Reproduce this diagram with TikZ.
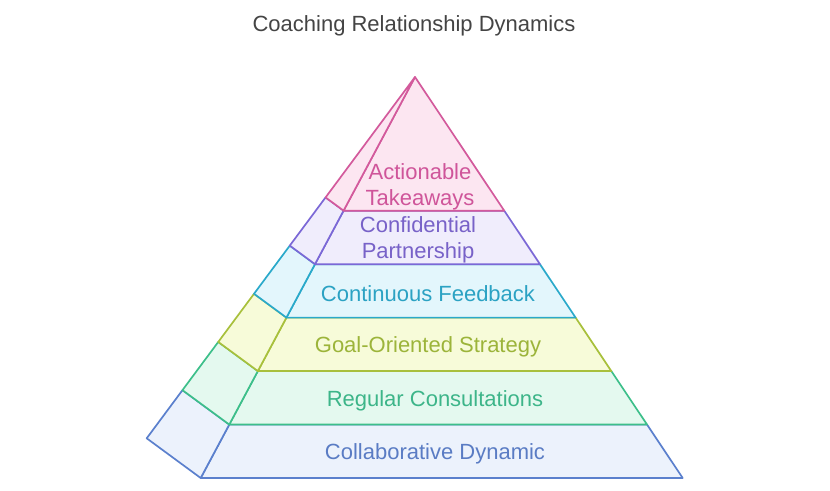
\documentclass[tikz,border=0pt]{standalone}
\usepackage{fontspec}
\setmainfont{Liberation Sans}
\usetikzlibrary{calc}
\definecolor{pkS}{HTML}{D35A9C}\definecolor{pkF}{HTML}{FCE6F1}\definecolor{pkT}{HTML}{CF559A}
\definecolor{puS}{HTML}{7B68D6}\definecolor{puF}{HTML}{F0EDFC}\definecolor{puT}{HTML}{7862C8}
\definecolor{cyS}{HTML}{2AA9CA}\definecolor{cyF}{HTML}{E3F6FC}\definecolor{cyT}{HTML}{2BA2C3}
\definecolor{olS}{HTML}{A8C03C}\definecolor{olF}{HTML}{F7FBD9}\definecolor{olT}{HTML}{9CB43A}
\definecolor{grS}{HTML}{3DBF8A}\definecolor{grF}{HTML}{E4F9EF}\definecolor{grT}{HTML}{3DB589}
\definecolor{blS}{HTML}{5B80CD}\definecolor{blF}{HTML}{ECF2FC}\definecolor{blT}{HTML}{5A7CC4}
\definecolor{titleC}{HTML}{444444}
\begin{document}
\begin{tikzpicture}[x=1pt,y=-1pt,line join=round,
  tier/.style={line width=1.7pt},
  lbl/.style={font=\fontsize{22}{26}\selectfont, align=center, inner sep=0pt},
  ttl/.style={font=\fontsize{22}{26}\selectfont, text=titleC, inner sep=0pt}]
\useasboundingbox (0,0) rectangle (830,490);
\coordinate (A) at (415,77);
\coordinate (L) at (200.7,478);
\coordinate (R) at (682.7,478);
\coordinate (D) at (146.7,438.3);
% levels
\foreach \n/\t in {1/0.3333,2/0.4667,3/0.6,4/0.7333,5/0.8667,6/1}{
  \coordinate (l\n) at ($(A)!\t!(L)$);
  \coordinate (r\n) at ($(A)!\t!(R)$);
  \coordinate (b\n) at ($(A)!\t!(D)$);
}
% tiers bottom to top
\foreach \a/\b/\s/\f in {5/6/blS/blF,4/5/grS/grF,3/4/olS/olF,2/3/cyS/cyF,1/2/puS/puF}{
  \draw[tier,draw=\s,fill=\f] (l\a) -- (r\a) -- (r\b) -- (l\b) -- cycle;
  \draw[tier,draw=\s,fill=\f] (l\a) -- (b\a) -- (b\b) -- (l\b) -- cycle;
}
\draw[tier,draw=pkS,fill=pkF] (A) -- (r1) -- (l1) -- cycle;
\draw[tier,draw=pkS,fill=pkF] (A) -- (l1) -- (b1) -- cycle;
% labels
\node[ttl] (title) at (414,26) {Coaching Relationship Dynamics};
\node[lbl,text=pkT] (t1) at (420,187) {Actionable\\Takeaways};
\node[lbl,text=puT] (t2) at (418,240) {Confidential\\Partnership};
\node[lbl,text=cyT] (t3) at (428,294) {Continuous Feedback};
\node[lbl,text=olT] (t4) at (428,347) {Goal-Oriented Strategy};
\node[lbl,text=grT] (t5) at (435,401) {Regular Consultations};
\node[lbl,text=blT] (t6) at (435,454) {Collaborative Dynamic};
\end{tikzpicture}
\end{document}
